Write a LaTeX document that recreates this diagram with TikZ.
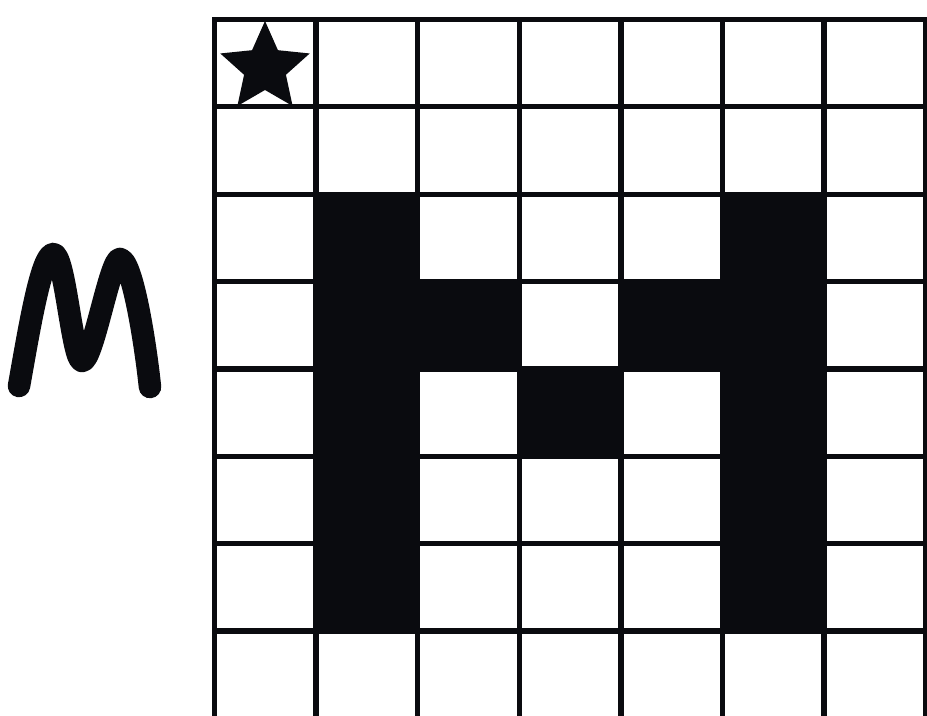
\documentclass[tikz,border=0pt]{standalone}
\definecolor{ink}{HTML}{0A0B0F}
\begin{document}
\begin{tikzpicture}[x=0.01cm,y=-0.01cm,
  gridline/.style={draw=ink,line width=1.5pt,line cap=rect},
  cellfill/.style={fill=ink},
  starfill/.style={fill=ink},
  mstroke/.style={draw=ink,line width=6.4pt,line cap=round,line join=round}]
\useasboundingbox (0,0) rectangle (927,716);
\clip (0,0) rectangle (927,716);
% black cells forming the M
\foreach \c/\r in {1/2,1/3,1/4,1/5,1/6,5/2,5/3,5/4,5/5,5/6,2/3,3/4,4/3}
  \fill[cellfill] ({214.5+\c*101.6},{19.5+\r*87.35}) rectangle ({214.5+(\c+1)*101.6},{19.5+(\r+1)*87.35});
% grid
\foreach \i in {0,...,7}
  \draw[gridline] ({214.5+\i*101.6},19.5) -- ({214.5+\i*101.6},730);
\foreach \j in {0,...,8}
  \draw[gridline] (214.5,{19.5+\j*87.35}) -- (925.7,{19.5+\j*87.35});
% star
\fill[starfill,shift={(265,68)}] (-90:47) -- (-54:22) -- (-18:47) -- (18:22) -- (54:47) -- (90:22) -- (126:47) -- (162:22) -- (198:47) -- (234:22) -- cycle;
% hand-drawn M
\draw[mstroke] (19,386) .. controls (29,330) and (41,256) .. (53,254)
  .. controls (65,252) and (72,360) .. (82,361)
  .. controls (93,362) and (110,258) .. (120,259)
  .. controls (132,260) and (145,340) .. (150,387);
\end{tikzpicture}
\end{document}
